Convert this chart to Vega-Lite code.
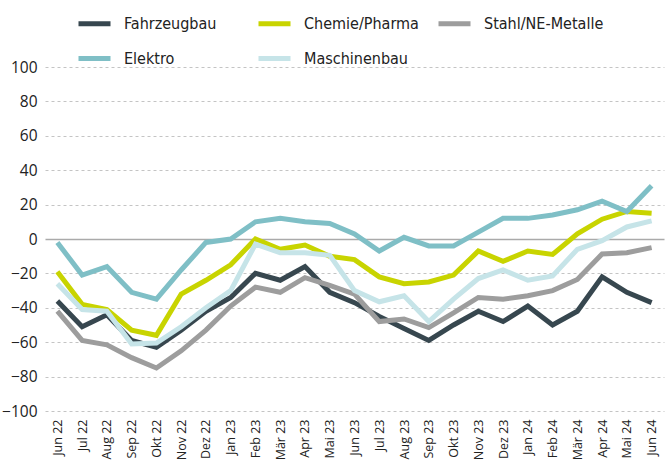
{
  "$schema": "https://vega.github.io/schema/vega-lite/v6.json",
  "width": 619,
  "height": 344,
  "autosize": {"type": "none"},
  "padding": {"left": 45, "top": 67, "right": 6, "bottom": 57},
  "background": "white",
  "config": {
    "view": {"stroke": null},
    "font": "Liberation Sans Narrow, DejaVu Sans Condensed, sans-serif"
  },
  "data": {"name": "d"},
  "datasets": {
    "d": [
      {"m":"Jun 22","s":"Fahrzeugbau","v":-36},{"m":"Jul 22","s":"Fahrzeugbau","v":-51},{"m":"Aug 22","s":"Fahrzeugbau","v":-44},{"m":"Sep 22","s":"Fahrzeugbau","v":-59},{"m":"Okt 22","s":"Fahrzeugbau","v":-63},{"m":"Nov 22","s":"Fahrzeugbau","v":-53},{"m":"Dez 22","s":"Fahrzeugbau","v":-42},{"m":"Jan 23","s":"Fahrzeugbau","v":-34},{"m":"Feb 23","s":"Fahrzeugbau","v":-20},{"m":"Mär 23","s":"Fahrzeugbau","v":-24},{"m":"Apr 23","s":"Fahrzeugbau","v":-16},{"m":"Mai 23","s":"Fahrzeugbau","v":-31},{"m":"Jun 23","s":"Fahrzeugbau","v":-37},{"m":"Jul 23","s":"Fahrzeugbau","v":-45},{"m":"Aug 23","s":"Fahrzeugbau","v":-52},{"m":"Sep 23","s":"Fahrzeugbau","v":-59},{"m":"Okt 23","s":"Fahrzeugbau","v":-50},{"m":"Nov 23","s":"Fahrzeugbau","v":-42},{"m":"Dez 23","s":"Fahrzeugbau","v":-48},{"m":"Jan 24","s":"Fahrzeugbau","v":-39},{"m":"Feb 24","s":"Fahrzeugbau","v":-50},{"m":"Mär 24","s":"Fahrzeugbau","v":-42},{"m":"Apr 24","s":"Fahrzeugbau","v":-22},{"m":"Mai 24","s":"Fahrzeugbau","v":-31},{"m":"Jun 24","s":"Fahrzeugbau","v":-37},
      {"m":"Jun 22","s":"Chemie/Pharma","v":-19},{"m":"Jul 22","s":"Chemie/Pharma","v":-38},{"m":"Aug 22","s":"Chemie/Pharma","v":-41},{"m":"Sep 22","s":"Chemie/Pharma","v":-53},{"m":"Okt 22","s":"Chemie/Pharma","v":-56},{"m":"Nov 22","s":"Chemie/Pharma","v":-32},{"m":"Dez 22","s":"Chemie/Pharma","v":-24},{"m":"Jan 23","s":"Chemie/Pharma","v":-15},{"m":"Feb 23","s":"Chemie/Pharma","v":0},{"m":"Mär 23","s":"Chemie/Pharma","v":-6},{"m":"Apr 23","s":"Chemie/Pharma","v":-3.5},{"m":"Mai 23","s":"Chemie/Pharma","v":-10},{"m":"Jun 23","s":"Chemie/Pharma","v":-12},{"m":"Jul 23","s":"Chemie/Pharma","v":-22},{"m":"Aug 23","s":"Chemie/Pharma","v":-26},{"m":"Sep 23","s":"Chemie/Pharma","v":-25},{"m":"Okt 23","s":"Chemie/Pharma","v":-21},{"m":"Nov 23","s":"Chemie/Pharma","v":-7},{"m":"Dez 23","s":"Chemie/Pharma","v":-13},{"m":"Jan 24","s":"Chemie/Pharma","v":-7},{"m":"Feb 24","s":"Chemie/Pharma","v":-9},{"m":"Mär 24","s":"Chemie/Pharma","v":3},{"m":"Apr 24","s":"Chemie/Pharma","v":11.5},{"m":"Mai 24","s":"Chemie/Pharma","v":16},{"m":"Jun 24","s":"Chemie/Pharma","v":15},
      {"m":"Jun 22","s":"Stahl/NE-Metalle","v":-42},{"m":"Jul 22","s":"Stahl/NE-Metalle","v":-59},{"m":"Aug 22","s":"Stahl/NE-Metalle","v":-61.5},{"m":"Sep 22","s":"Stahl/NE-Metalle","v":-69},{"m":"Okt 22","s":"Stahl/NE-Metalle","v":-75},{"m":"Nov 22","s":"Stahl/NE-Metalle","v":-65},{"m":"Dez 22","s":"Stahl/NE-Metalle","v":-53},{"m":"Jan 23","s":"Stahl/NE-Metalle","v":-39},{"m":"Feb 23","s":"Stahl/NE-Metalle","v":-28},{"m":"Mär 23","s":"Stahl/NE-Metalle","v":-31},{"m":"Apr 23","s":"Stahl/NE-Metalle","v":-22.5},{"m":"Mai 23","s":"Stahl/NE-Metalle","v":-27},{"m":"Jun 23","s":"Stahl/NE-Metalle","v":-32},{"m":"Jul 23","s":"Stahl/NE-Metalle","v":-48},{"m":"Aug 23","s":"Stahl/NE-Metalle","v":-46.5},{"m":"Sep 23","s":"Stahl/NE-Metalle","v":-51.5},{"m":"Okt 23","s":"Stahl/NE-Metalle","v":-43},{"m":"Nov 23","s":"Stahl/NE-Metalle","v":-34},{"m":"Dez 23","s":"Stahl/NE-Metalle","v":-35},{"m":"Jan 24","s":"Stahl/NE-Metalle","v":-33},{"m":"Feb 24","s":"Stahl/NE-Metalle","v":-30},{"m":"Mär 24","s":"Stahl/NE-Metalle","v":-23.5},{"m":"Apr 24","s":"Stahl/NE-Metalle","v":-8.7},{"m":"Mai 24","s":"Stahl/NE-Metalle","v":-8},{"m":"Jun 24","s":"Stahl/NE-Metalle","v":-5},
      {"m":"Jun 22","s":"Elektro","v":-2},{"m":"Jul 22","s":"Elektro","v":-21},{"m":"Aug 22","s":"Elektro","v":-16},{"m":"Sep 22","s":"Elektro","v":-31},{"m":"Okt 22","s":"Elektro","v":-35},{"m":"Nov 22","s":"Elektro","v":-18},{"m":"Dez 22","s":"Elektro","v":-2},{"m":"Jan 23","s":"Elektro","v":0},{"m":"Feb 23","s":"Elektro","v":10},{"m":"Mär 23","s":"Elektro","v":12},{"m":"Apr 23","s":"Elektro","v":10},{"m":"Mai 23","s":"Elektro","v":9},{"m":"Jun 23","s":"Elektro","v":3},{"m":"Jul 23","s":"Elektro","v":-7},{"m":"Aug 23","s":"Elektro","v":1},{"m":"Sep 23","s":"Elektro","v":-4},{"m":"Okt 23","s":"Elektro","v":-4},{"m":"Nov 23","s":"Elektro","v":4},{"m":"Dez 23","s":"Elektro","v":12},{"m":"Jan 24","s":"Elektro","v":12},{"m":"Feb 24","s":"Elektro","v":14},{"m":"Mär 24","s":"Elektro","v":17},{"m":"Apr 24","s":"Elektro","v":22},{"m":"Mai 24","s":"Elektro","v":16},{"m":"Jun 24","s":"Elektro","v":31},
      {"m":"Jun 22","s":"Maschinenbau","v":-26},{"m":"Jul 22","s":"Maschinenbau","v":-41},{"m":"Aug 22","s":"Maschinenbau","v":-42},{"m":"Sep 22","s":"Maschinenbau","v":-61},{"m":"Okt 22","s":"Maschinenbau","v":-60.5},{"m":"Nov 22","s":"Maschinenbau","v":-51},{"m":"Dez 22","s":"Maschinenbau","v":-40},{"m":"Jan 23","s":"Maschinenbau","v":-30},{"m":"Feb 23","s":"Maschinenbau","v":-3},{"m":"Mär 23","s":"Maschinenbau","v":-8},{"m":"Apr 23","s":"Maschinenbau","v":-8},{"m":"Mai 23","s":"Maschinenbau","v":-9.5},{"m":"Jun 23","s":"Maschinenbau","v":-30},{"m":"Jul 23","s":"Maschinenbau","v":-36.5},{"m":"Aug 23","s":"Maschinenbau","v":-33},{"m":"Sep 23","s":"Maschinenbau","v":-48},{"m":"Okt 23","s":"Maschinenbau","v":-35},{"m":"Nov 23","s":"Maschinenbau","v":-23},{"m":"Dez 23","s":"Maschinenbau","v":-18},{"m":"Jan 24","s":"Maschinenbau","v":-24},{"m":"Feb 24","s":"Maschinenbau","v":-21.5},{"m":"Mär 24","s":"Maschinenbau","v":-6},{"m":"Apr 24","s":"Maschinenbau","v":-1},{"m":"Mai 24","s":"Maschinenbau","v":7},{"m":"Jun 24","s":"Maschinenbau","v":10.5}
    ]
  },
  "mark": {"type": "line", "strokeWidth": 5, "strokeJoin": "miter", "strokeCap": "butt"},
  "encoding": {
    "x": {
      "field": "m", "type": "ordinal", "sort": null,
      "scale": {"type": "point", "padding": 0.5},
      "axis": {
        "title": null, "domain": false, "ticks": false, "grid": false, "labelAngle": 270,
        "labelAlign": "right", "labelBaseline": "middle", "labelPadding": 8,
        "labelFontSize": 12.5, "labelColor": "#222", "labelFont": "Open Sans, sans-serif"
      }
    },
    "y": {
      "field": "v", "type": "quantitative",
      "scale": {"domain": [-100, 100], "nice": false, "zero": false},
      "axis": {
        "title": null, "domain": false, "ticks": false, "values": [-100,-80,-60,-40,-20,0,20,40,60,80,100],
        "labelPadding": 8, "labelFontSize": 15.5, "labelColor": "#222",
        "labelFont": "Open Sans, sans-serif", "labelOverlap": false,
        "grid": true,
        "gridColor": {"condition": {"test": "datum.value === 0", "value": "#aaaaaa"}, "value": "#c4c4c4"},
        "gridDash": {"condition": {"test": "datum.value === 0", "value": []}, "value": [3, 3]},
        "gridWidth": {"condition": {"test": "datum.value === 0", "value": 1.5}, "value": 1}
      }
    },
    "color": {
      "field": "s", "type": "nominal",
      "scale": {
        "domain": ["Fahrzeugbau", "Chemie/Pharma", "Stahl/NE-Metalle", "Elektro", "Maschinenbau"],
        "range": ["#37474f", "#c8d400", "#9d9d9d", "#7fbfc6", "#c6e4e8"]
      },
      "legend": {
        "title": null, "orient": "none", "legendX": 31, "legendY": -62,
        "direction": "horizontal", "columns": 3, "gridAlign": "all",
        "columnPadding": 4, "rowPadding": 6,
        "symbolType": "stroke", "symbolSize": 1024, "symbolStrokeWidth": 5,
        "labelFontSize": 16, "labelColor": "#222", "labelOffset": 11, "labelLimit": 200
      }
    }
  }
}
